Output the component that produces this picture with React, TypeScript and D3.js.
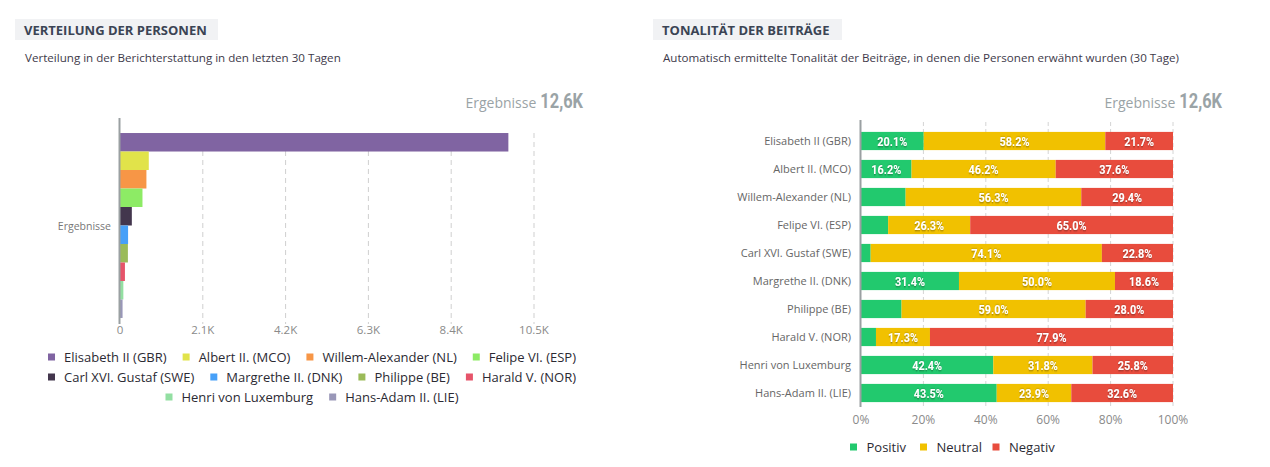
import React from "react";
import * as d3 from "d3";

const persons = [
  "Elisabeth II (GBR)",
  "Albert II. (MCO)",
  "Willem-Alexander (NL)",
  "Felipe VI. (ESP)",
  "Carl XVI. Gustaf (SWE)",
  "Margrethe II. (DNK)",
  "Philippe (BE)",
  "Harald V. (NOR)",
  "Henri von Luxemburg",
  "Hans-Adam II. (LIE)",
];
const personColors = [
  "#8064a2", "#e1e34a", "#f79646", "#8deb65", "#43364d",
  "#47a0f8", "#9bbb59", "#e6546a", "#93dfa2", "#9997b8",
];
const counts = [9850, 730, 670, 570, 300, 205, 200, 125, 85, 65];
const countTicks = [0, 2100, 4200, 6300, 8400, 10500];
const countTickLabels = ["0", "2.1K", "4.2K", "6.3K", "8.4K", "10.5K"];
const totalLabel = "12,6K";

const tonalities = ["Positiv", "Neutral", "Negativ"];
const tonalityColors = ["#22c96e", "#f1c100", "#e84c3d"];
const positiv = [20.1, 16.2, 14.3, 8.7, 3.1, 31.4, 13.0, 4.8, 42.4, 43.5];
const neutral = [58.2, 46.2, 56.3, 26.3, 74.1, 50.0, 59.0, 17.3, 31.8, 23.9];
const negativ = [21.7, 37.6, 29.4, 65.0, 22.8, 18.6, 28.0, 77.9, 25.8, 32.6];
const pctTicks = [0, 20, 40, 60, 80, 100];

const FONT = "'Open Sans', 'Noto Sans', sans-serif";
const NARROW = "Roboto, 'Liberation Sans', sans-serif";
const NARROW_SCALE = 0.82;

let ctx: CanvasRenderingContext2D | null = null;
function measure(s: string, font: string) {
  if (typeof document === "undefined") return s.length * 7;
  if (!ctx) ctx = document.createElement("canvas").getContext("2d");
  ctx!.font = font;
  return ctx!.measureText(s).width;
}

function Title({ x, w, title, sub }: { x: number; w: number; title: string; sub: string }) {
  return (
    <g>
      <rect x={x} y={19} width={w} height={21} fill="#f1f2f4" />
      <text x={x + 9} y={35} fontFamily={FONT} fontWeight={700} fontSize={13} fill="#3b4454">
        {title}
      </text>
      <text x={x + 10} y={62} fontFamily={FONT} fontSize={11.6} fill="#3e3a4a">
        {sub}
      </text>
    </g>
  );
}

function Total({ right }: { right: number }) {
  const w = measure(totalLabel, "bold 20px Roboto") * NARROW_SCALE;
  return (
    <g>
      <text x={right - w - 4} y={108} textAnchor="end" fontFamily={FONT} fontSize={14} fill="#9aa3a6">
        Ergebnisse
      </text>
      <text transform={`translate(${right},108) scale(${NARROW_SCALE},1)`} textAnchor="end" fontFamily={NARROW} fontWeight={700} fontSize={20} fill="#9aa3a6">
        {totalLabel}
      </text>
    </g>
  );
}

export default function App() {
  // Left chart
  const x1 = d3.scaleLinear().domain([0, 10500]).range([120, 534]);
  const yOuter = d3.scaleBand().domain(["Ergebnisse"]).range([121, 330]).paddingOuter(0.065);
  const yInner = d3.scaleBand().domain(persons).range([0, yOuter.bandwidth()]).padding(0);
  const y0 = yOuter("Ergebnisse") as number;

  const legendRows = [persons.slice(0, 4), persons.slice(4, 8), persons.slice(8)];

  // Right chart
  const x2 = d3.scaleLinear().domain([0, 100]).range([861, 1173]);
  const y2 = d3.scaleBand().domain(persons).range([127, 407]).paddingInner(0.35).paddingOuter(0.175);
  const stackData = persons.map((p, i) => ({ name: p, Positiv: positiv[i], Neutral: neutral[i], Negativ: negativ[i] }));
  const series = d3.stack<any>().keys(tonalities)(stackData);

  return (
    <svg width={1270} height={467} style={{ position: "absolute", left: 0, top: 0 }}>
      <defs>
        <filter id="sh" x="-20%" y="-30%" width="140%" height="160%">
          <feDropShadow dx="0" dy="0.5" stdDeviation="0.9" floodColor="#000" floodOpacity="0.55" />
        </filter>
      </defs>
      <rect width={1270} height={467} fill="#fff" />

      {/* LEFT */}
      <Title x={15} w={203} title="VERTEILUNG DER PERSONEN" sub="Verteilung in der Berichterstattung in den letzten 30 Tagen" />
      <Total right={583} />
      {countTicks.slice(1).map((t) => (
        <line key={t} x1={x1(t)} x2={x1(t)} y1={133} y2={324} stroke="#cfcfcf" strokeDasharray="5,4" />
      ))}
      {persons.map((p, i) => (
        <rect key={p} x={x1(0)} y={y0 + (yInner(p) as number)} width={x1(counts[i]) - x1(0)} height={yInner.bandwidth()} fill={personColors[i]} />
      ))}
      <line x1={119.5} x2={119.5} y1={118} y2={324} stroke="#9aa0a2" strokeWidth={2} />
      <text x={111} y={226} dy="0.35em" textAnchor="end" fontFamily={FONT} fontSize={10.5} fill="#777">
        Ergebnisse
      </text>
      {countTicks.map((t, i) => (
        <text key={t} x={x1(t)} y={334} textAnchor="middle" fontFamily={FONT} fontSize={11.5} fill="#8a8a8a">
          {countTickLabels[i]}
        </text>
      ))}
      {legendRows.map((row, r) => {
        const widths = row.map((s) => 16 + measure(s, "13px 'Open Sans'"));
        const total = widths.reduce((a, b) => a + b, 0) + 16 * (row.length - 1);
        let cx = 312 - total / 2;
        return row.map((s, k) => {
          const idx = persons.indexOf(s);
          const gx = cx;
          cx += widths[k] + 16;
          return (
            <g key={s}>
              <rect x={gx} y={353.5 + r * 20} width={7} height={7} fill={personColors[idx]} />
              <text x={gx + 16} y={361.5 + r * 20} fontFamily={FONT} fontSize={13} fill="#2b2a33">
                {s}
              </text>
            </g>
          );
        });
      })}

      {/* RIGHT */}
      <Title x={653} w={189} title="TONALITÄT DER BEITRÄGE" sub="Automatisch ermittelte Tonalität der Beiträge, in denen die Personen erwähnt wurden (30 Tage)" />
      <Total right={1222} />
      {pctTicks.slice(1).map((t) => (
        <line key={t} x1={x2(t)} x2={x2(t)} y1={122} y2={407} stroke="#d4d4d4" strokeDasharray="4,3" />
      ))}
      {series.map((s, si) => (
        <g key={s.key}>
          {s.map((d, i) => {
            const xa = x2(d[0]);
            const xb = x2(d[1]);
            const v = d[1] - d[0];
            const yy = y2(persons[i]) as number;
            const cx = (xa + xb) / 2;
            const cy = yy + y2.bandwidth() / 2;
            return (
              <g key={i}>
                <rect x={xa} y={yy} width={xb - xa} height={y2.bandwidth()} fill={tonalityColors[si]} />
                {v >= 15 && (
                  <text transform={`translate(${cx},${cy}) scale(0.84,1)`} dy="0.36em" textAnchor="middle" fontFamily={NARROW} fontWeight={700} fontSize={13} fill="#fff" filter="url(#sh)">
                    {v.toFixed(1)}%
                  </text>
                )}
              </g>
            );
          })}
        </g>
      ))}
      <line x1={860.5} x2={860.5} y1={120} y2={407} stroke="#9aa0a2" strokeWidth={2} />
      {persons.map((p) => (
        <text key={p} x={851} y={(y2(p) as number) + y2.bandwidth() / 2} dy="0.35em" textAnchor="end" fontFamily={FONT} fontSize={11} fill="#666">
          {p}
        </text>
      ))}
      {pctTicks.map((t) => (
        <text key={t} x={x2(t)} y={424} textAnchor="middle" fontFamily={FONT} fontSize={12} fill="#8a8a8a">
          {t}%
        </text>
      ))}
      {tonalities.map((t, i) => {
        const lx = [850, 920, 992.5][i];
        return (
          <g key={t}>
            <rect x={lx} y={443.5} width={7} height={7} fill={tonalityColors[i]} />
            <text x={lx + 16.5} y={451.5} fontFamily={FONT} fontSize={13} fill="#2b2a33">
              {t}
            </text>
          </g>
        );
      })}
    </svg>
  );
}
